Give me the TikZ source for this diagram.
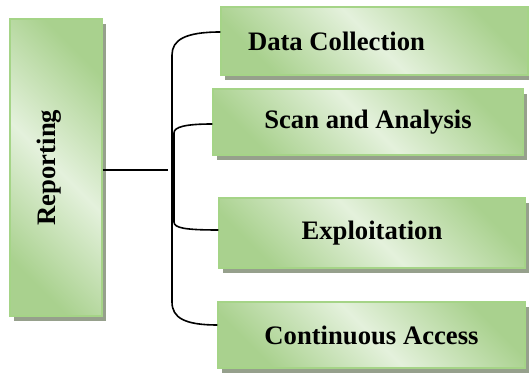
\documentclass[tikz,border=0pt]{standalone}
\usepackage{fontspec}
\setmainfont{Liberation Serif}
\usepackage{graphicx}
\usetikzlibrary{calc, shadows}
\definecolor{boxgreen}{RGB}{169, 209, 142}
\definecolor{boxlight}{RGB}{228, 241, 220}
\definecolor{boxedge}{RGB}{165, 212, 135}
\definecolor{boxshade}{RGB}{150, 160, 140}
\tikzset{
  stagebox/.style={draw=boxedge, line width=0.8pt, inner sep=0pt,
    top color=boxgreen, bottom color=boxgreen, middle color=boxlight,
    shading angle=-45,
    general shadow={fill=boxshade, shadow xshift=3pt, shadow yshift=-3.5pt},
    font=\bfseries\fontsize{20}{24}\selectfont},
  link/.style={line width=1.2pt, black}
}
\begin{document}
\begin{tikzpicture}[x=0.75pt, y=-0.75pt]
    \useasboundingbox (0,0) rectangle (529,373);
    % Caixas
    \node[stagebox, minimum width=69pt, minimum height=222.75pt] (rep) at (56,167.5)
      {\rotatebox{90}{Reporting}\kern10pt};
    \node[stagebox, minimum width=230.25pt, minimum height=51pt] (dc) at (374.5,41)
      {\makebox[189.75pt][l]{Data Collection}};
    \node[stagebox, minimum width=232.5pt, minimum height=49.5pt] (sa) at (368,122)
      {Scan and Analysis};
    \node[stagebox, minimum width=229.5pt, minimum height=52.5pt] (ex) at (372,233)
      {Exploitation};
    \node[stagebox, minimum width=230.25pt, minimum height=49.5pt] (ca) at (371.5,335)
      {Continuous Access};
    % Chaves
    \coordinate (hub) at (168,170);
    \coordinate (bt) at (172,55);
    \coordinate (bb) at (172,302);
    \coordinate (it) at (174,133);
    \coordinate (ib) at (174,222);
    \draw[link] (rep.east |- hub) -- (hub);
    \draw[link] ($(dc.west)+(0,-9)$) .. controls (185,32) and (172,40) .. (bt)
      -- (bb) .. controls (172,318) and (185,325) .. ($(ca.west)+(0,-10)$);
    \draw[link] ($(sa.west)+(0,2)$) .. controls (185,124) and (174,127) .. (it)
      -- (ib) .. controls (174,228) and (185,230) .. ($(ex.west)+(0,-3)$);
  \end{tikzpicture}
\end{document}
